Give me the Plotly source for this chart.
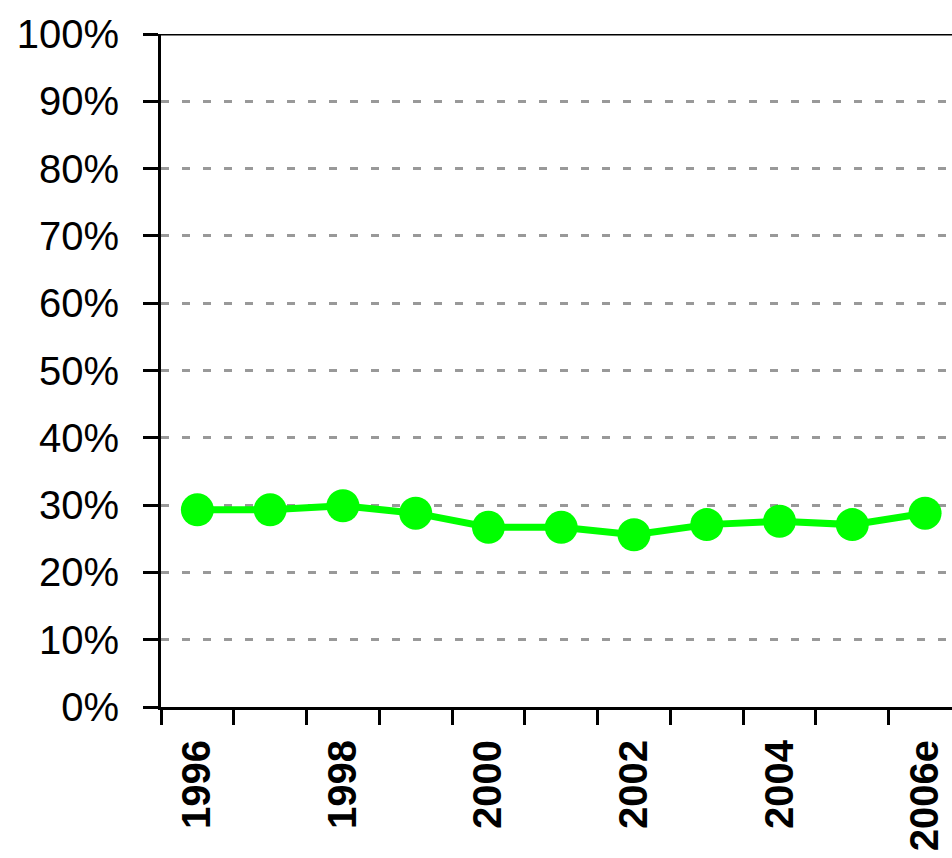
import plotly.graph_objects as go

years = ["1996", "1997", "1998", "1999", "2000", "2001", "2002", "2003", "2004", "2005", "2006e"]
shares = [29.3, 29.3, 29.9, 28.8, 26.7, 26.7, 25.6, 27.1, 27.6, 27.1, 28.8]
tick_labels = ["1996", "", "1998", "", "2000", "", "2002", "", "2004", "", "2006e"]
y_ticks = [0, 10, 20, 30, 40, 50, 60, 70, 80, 90, 100]

fig = go.Figure()
fig.add_trace(go.Scatter(
    x=years, y=shares, mode="lines+markers",
    line=dict(color="#00FF00", width=7),
    marker=dict(color="#00FF00", size=33, symbol="circle"),
    showlegend=False, hoverinfo="skip",
))

# top border of the plot area
fig.add_shape(type="line", xref="paper", yref="y", x0=-0.021, x1=1, y0=100, y1=100,
              line=dict(color="black", width=3), layer="above")

fig.update_layout(
    width=952, height=858,
    margin=dict(l=161, r=0, t=34, b=151),
    paper_bgcolor="white", plot_bgcolor="white",
    font=dict(family="Liberation Sans, Arial, sans-serif", color="black"),
    xaxis=dict(
        type="category",
        range=[-0.5, 10.37],
        tickvals=years, ticktext=tick_labels,
        tickson="boundaries",
        ticks="outside", ticklen=15, tickwidth=3, tickcolor="black",
        tickangle=-90,
        tickfont=dict(size=40, family="Liberation Sans, Arial, sans-serif", weight="bold"),
        ticklabelstandoff=14,
        showline=True, linecolor="black", linewidth=3,
        showgrid=False, zeroline=False,
    ),
    yaxis=dict(
        range=[0, 100],
        tickvals=y_ticks,
        ticktext=[f"{v}%" for v in y_ticks],
        ticks="outside", ticklen=15, tickwidth=3, tickcolor="black",
        tickfont=dict(size=40),
        ticklabelstandoff=16,
        showline=True, linecolor="black", linewidth=3,
        showgrid=True, gridcolor="#999999", gridwidth=3, griddash="8px,13px",
        zeroline=False,
    ),
)

fig.write_html("out.html", config={"displayModeBar": False},
               post_script="document.body.style.margin='0';document.body.style.overflow='hidden';")
